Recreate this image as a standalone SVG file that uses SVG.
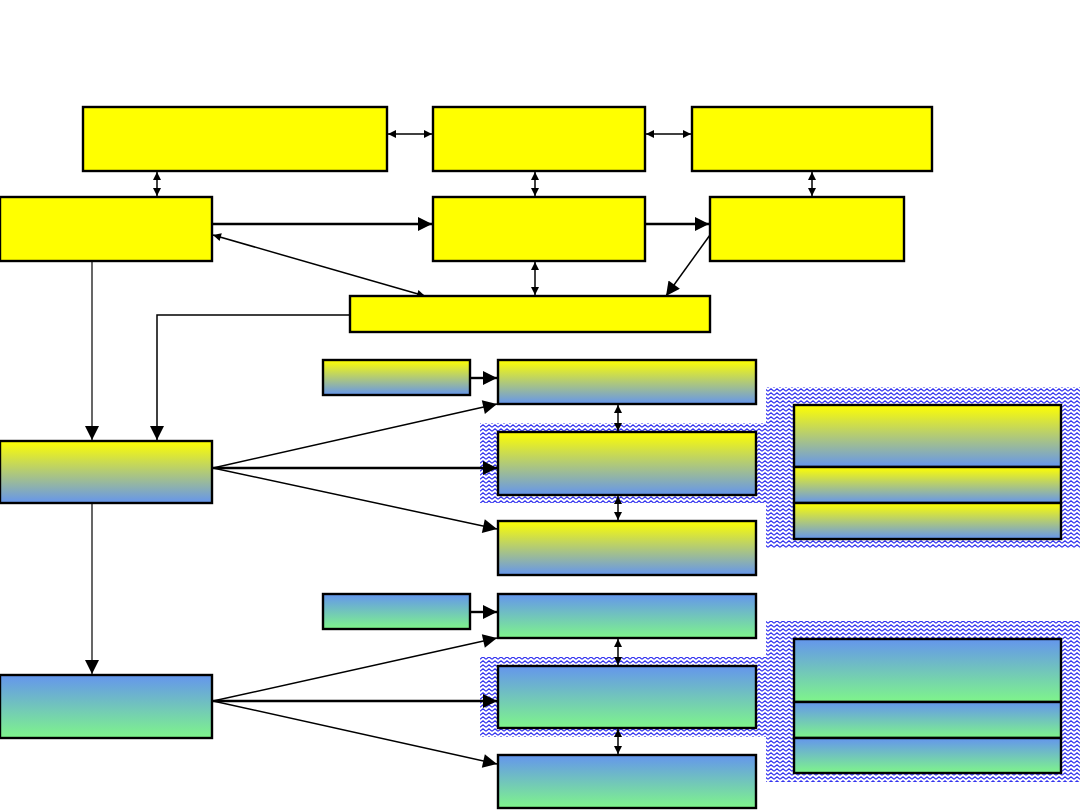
<svg xmlns="http://www.w3.org/2000/svg" width="1080" height="810" viewBox="0 0 1080 810">
<style>
.box{stroke:#000;stroke-width:2.4}
.y{fill:#ffff00}
.gy{fill:url(#gYB)}
.gb{fill:url(#gBG)}
.hatch{fill:url(#zig)}
.c{fill:none;stroke:#000}
.w1{stroke-width:1.2}
.w2{stroke-width:2.4}
.w15{stroke-width:1.5}
</style>
<defs>
<linearGradient id="gYB" x1="0" y1="0" x2="0" y2="1">
<stop offset="0" stop-color="#ffff00"/><stop offset="1" stop-color="#6495ed"/>
</linearGradient>
<linearGradient id="gBG" x1="0" y1="0" x2="0" y2="1">
<stop offset="0" stop-color="#6495ed"/><stop offset="1" stop-color="#7ff58a"/>
</linearGradient>
<pattern id="zig" width="6" height="4" patternUnits="userSpaceOnUse">
<rect width="6" height="4" fill="#fff"/>
<path d="M0,3.2 L3,0.8 L6,3.2" fill="none" stroke="#3434f0" stroke-width="1.2"/>
</pattern>
<marker id="big" viewBox="0 0 10 10" refX="10" refY="5" markerWidth="16" markerHeight="14" markerUnits="userSpaceOnUse" orient="auto"><path d="M0,0 L10,5 L0,10z" fill="#000"/></marker>
<marker id="mid" viewBox="0 0 10 10" refX="10" refY="5" markerWidth="12" markerHeight="8" markerUnits="userSpaceOnUse" orient="auto-start-reverse"><path d="M0,0 L10,5 L0,10z" fill="#000"/></marker>
<marker id="sm" viewBox="0 0 10 10" refX="10" refY="5" markerWidth="9" markerHeight="8" markerUnits="userSpaceOnUse" orient="auto-start-reverse"><path d="M0,0 L10,5 L0,10z" fill="#000"/></marker>
</defs>
<rect width="1080" height="810" fill="#fff"/>

<g id="hatches">
<rect class="hatch" x="766" y="387" width="314" height="161"/>
<rect class="hatch" x="480" y="423" width="287" height="80"/>
<rect class="hatch" x="766" y="621" width="314" height="161"/>
<rect class="hatch" x="480" y="657" width="287" height="80"/>
</g>

<g id="connectors">
<line class="c w15" x1="388" y1="134" x2="432" y2="134" marker-start="url(#sm)" marker-end="url(#sm)"/>
<line class="c w15" x1="646" y1="134" x2="691" y2="134" marker-start="url(#sm)" marker-end="url(#sm)"/>
<line class="c w15" x1="157" y1="172" x2="157" y2="196" marker-start="url(#sm)" marker-end="url(#sm)"/>
<line class="c w15" x1="535" y1="172" x2="535" y2="196" marker-start="url(#sm)" marker-end="url(#sm)"/>
<line class="c w15" x1="812" y1="172" x2="812" y2="196" marker-start="url(#sm)" marker-end="url(#sm)"/>
<line class="c w15" x1="535" y1="262" x2="535" y2="295" marker-start="url(#sm)" marker-end="url(#sm)"/>
<line class="c w2" x1="213" y1="224" x2="432" y2="224" marker-end="url(#big)"/>
<line class="c w2" x1="646" y1="224" x2="709" y2="224" marker-end="url(#big)"/>
<line class="c w15" x1="710" y1="235" x2="666" y2="296" marker-end="url(#big)"/>
<line class="c w15" x1="425" y1="296" x2="213" y2="235" marker-start="url(#mid)" marker-end="url(#mid)"/>
<polyline class="c w15" points="350,315 157,315 157,440" marker-end="url(#big)"/>
<line class="c w1" x1="92" y1="262" x2="92" y2="440" marker-end="url(#big)"/>
<line class="c w2" x1="471" y1="378" x2="497" y2="378" marker-end="url(#big)"/>
<line class="c w15" x1="213" y1="468" x2="497" y2="404" marker-end="url(#big)"/>
<line class="c w2" x1="213" y1="468" x2="497" y2="468" marker-end="url(#big)"/>
<line class="c w15" x1="213" y1="468" x2="497" y2="529" marker-end="url(#big)"/>
<line class="c w15" x1="618" y1="405" x2="618" y2="431" marker-start="url(#sm)" marker-end="url(#sm)"/>
<line class="c w15" x1="618" y1="496" x2="618" y2="520" marker-start="url(#sm)" marker-end="url(#sm)"/>
<line class="c w1" x1="92" y1="504" x2="92" y2="674" marker-end="url(#big)"/>
<line class="c w2" x1="471" y1="612" x2="497" y2="612" marker-end="url(#big)"/>
<line class="c w15" x1="213" y1="701" x2="497" y2="638" marker-end="url(#big)"/>
<line class="c w2" x1="213" y1="701" x2="497" y2="701" marker-end="url(#big)"/>
<line class="c w15" x1="213" y1="701" x2="497" y2="764" marker-end="url(#big)"/>
<line class="c w15" x1="618" y1="639" x2="618" y2="665" marker-start="url(#sm)" marker-end="url(#sm)"/>
<line class="c w15" x1="618" y1="729" x2="618" y2="754" marker-start="url(#sm)" marker-end="url(#sm)"/>
</g>

<g id="nA"><rect class="box y" x="83" y="107" width="304" height="64"/></g>
<g id="nB"><rect class="box y" x="433" y="107" width="212" height="64"/></g>
<g id="nC"><rect class="box y" x="692" y="107" width="240" height="64"/></g>
<g id="nD"><rect class="box y" x="0" y="197" width="212" height="64"/></g>
<g id="nE"><rect class="box y" x="433" y="197" width="212" height="64"/></g>
<g id="nF"><rect class="box y" x="710" y="197" width="194" height="64"/></g>
<g id="nG"><rect class="box y" x="350" y="296" width="360" height="36"/></g>

<g id="nH"><rect class="box gy" x="0" y="441" width="212" height="62"/></g>
<g id="nI"><rect class="box gy" x="323" y="360" width="147" height="35"/></g>
<g id="nJ"><rect class="box gy" x="498" y="360" width="258" height="44"/></g>
<g id="nK"><rect class="box gy" x="498" y="432" width="258" height="63"/></g>
<g id="nL"><rect class="box gy" x="498" y="521" width="258" height="54"/></g>
<g id="nM1"><rect class="box gy" x="794" y="405" width="267" height="62"/></g>
<g id="nM2"><rect class="box gy" x="794" y="467" width="267" height="36"/></g>
<g id="nM3"><rect class="box gy" x="794" y="503" width="267" height="36"/></g>

<g id="nN"><rect class="box gb" x="0" y="675" width="212" height="63"/></g>
<g id="nO"><rect class="box gb" x="323" y="594" width="147" height="35"/></g>
<g id="nP"><rect class="box gb" x="498" y="594" width="258" height="44"/></g>
<g id="nQ"><rect class="box gb" x="498" y="666" width="258" height="62"/></g>
<g id="nR"><rect class="box gb" x="498" y="755" width="258" height="53"/></g>
<g id="nS1"><rect class="box gb" x="794" y="639" width="267" height="63"/></g>
<g id="nS2"><rect class="box gb" x="794" y="702" width="267" height="36"/></g>
<g id="nS3"><rect class="box gb" x="794" y="738" width="267" height="35"/></g>
</svg>
